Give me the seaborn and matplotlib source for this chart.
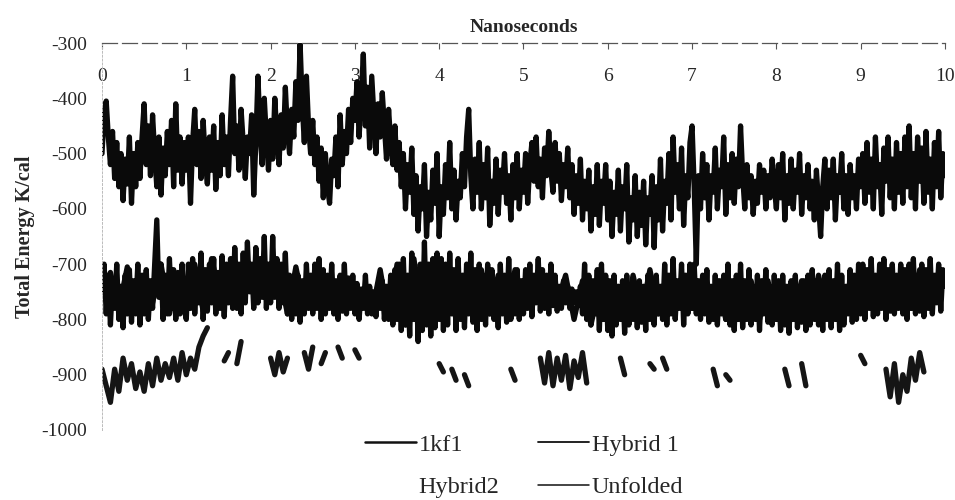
import numpy as np
import pandas as pd
import matplotlib
matplotlib.use("Agg")
import matplotlib.pyplot as plt
from matplotlib.lines import Line2D
import seaborn as sns

na = np.nan

# readings every 0.025 ns for the two dense traces
ns_fine = np.linspace(0, 10, 401)
# 0.05 ns for the broken trace, 0.1 ns for the hidden one
ns_mid = np.linspace(0, 10, 201)
ns_coarse = np.linspace(0, 10, 101)

# values (K/cal), one row per 0.5 ns
kf1 = [
    -500, -430, -405, -470, -520, -460, -545, -480, -560, -500, -585, -510, -555, -470, -590, -500, -560, -480, -545, -470,
    -410, -520, -450, -540, -430, -500, -560, -470, -575, -490, -540, -460, -520, -440, -560, -410, -530, -470, -555, -480,
    -530, -470, -590, -480, -420, -520, -460, -545, -440, -510, -555, -470, -530, -450, -565, -480, -540, -430, -520, -470,
    -540, -440, -360, -500, -450, -530, -420, -480, -545, -470, -500, -430, -575, -480, -360, -460, -520, -400, -470, -530,
    -440, -510, -400, -470, -520, -430, -490, -380, -460, -500, -420, -470, -370, -440, -300, -410, -480, -360, -450, -500,
    -440, -520, -470, -550, -490, -580, -500, -560, -590, -510, -540, -470, -560, -430, -520, -460, -500, -420, -480, -400,
    -440, -370, -470, -400, -320, -450, -380, -490, -360, -430, -500, -410, -470, -390, -450, -510, -420, -480, -520, -450,
    -530, -480, -560, -500, -600, -520, -570, -490, -610, -540, -640, -560, -600, -520, -650, -570, -620, -530, -590, -500,
    -650, -560, -610, -520, -580, -480, -600, -530, -620, -550, -580, -500, -560, -470, -420, -540, -600, -510, -570, -480,
    -600, -520, -580, -490, -630, -550, -590, -510, -610, -530, -570, -500, -590, -540, -620, -520, -580, -500, -600, -530,
    -570, -500, -590, -520, -480, -550, -470, -560, -510, -580, -490, -540, -460, -530, -570, -480, -550, -500, -585, -520,
    -560, -490, -580, -520, -610, -540, -590, -510, -620, -550, -600, -530, -640, -560, -610, -520, -630, -550, -590, -520,
    -620, -550, -650, -570, -610, -530, -640, -560, -600, -520, -660, -580, -620, -540, -650, -570, -630, -550, -665, -580,
    -610, -540, -670, -560, -620, -510, -640, -550, -590, -500, -620, -470, -570, -520, -600, -490, -630, -540, -580, -480,
    -450, -560, -700, -540, -600, -500, -580, -520, -620, -540, -570, -490, -600, -530, -560, -470, -610, -520, -580, -500,
    -590, -510, -560, -450, -540, -600, -520, -580, -540, -610, -550, -590, -520, -570, -530, -600, -540, -580, -510, -560,
    -600, -520, -580, -500, -620, -540, -590, -510, -600, -530, -570, -500, -610, -540, -580, -520, -600, -550, -620, -530,
    -590, -650, -560, -510, -600, -530, -580, -510, -620, -540, -570, -500, -600, -540, -610, -520, -580, -540, -600, -510,
    -560, -500, -590, -480, -570, -510, -600, -470, -560, -520, -610, -490, -550, -470, -580, -510, -600, -480, -570, -500,
    -590, -470, -560, -450, -580, -500, -600, -470, -550, -490, -590, -460, -570, -510, -600, -480, -560, -460, -580, -500,
    -540,
]

hybrid1 = [
    -750, -700, -790, -720, -810, -730, -780, -700, -800, -740, -815, -720, -790, -710, -805, -730, -780, -700, -810, -720,
    -790, -710, -800, -730, -780, -700, -620, -760, -700, -800, -720, -790, -690, -780, -710, -800, -730, -790, -700, -780,
    -800, -700, -780, -690, -790, -720, -770, -680, -800, -710, -785, -700, -770, -690, -790, -715, -780, -685, -795, -700,
    -770, -690, -780, -670, -760, -700, -790, -680, -770, -660, -750, -700, -780, -670, -770, -690, -760, -650, -780, -700,
    -770, -650, -760, -690, -780, -700, -770, -680, -790, -720, -800, -740, -790, -720, -805, -730, -790, -700, -780, -720,
    -790, -700, -780, -690, -800, -710, -790, -720, -780, -700, -790, -730, -800, -720, -785, -700, -790, -725, -780, -720,
    -790, -735, -800, -745, -780, -720, -790, -740, -785, -750, -795, -740, -780, -730, -800, -740, -790, -720, -810, -710,
    -800, -700, -820, -690, -810, -720, -830, -680, -800, -710, -840, -700, -820, -660, -810, -700, -830, -690, -815, -680,
    -800, -690, -820, -700, -810, -680, -790, -710, -820, -690, -800, -720, -815, -700, -790, -680, -805, -710, -820, -700,
    -800, -720, -810, -700, -790, -710, -800, -730, -815, -700, -790, -720, -805, -690, -800, -720, -790, -710, -800, -730,
    -790, -710, -780, -700, -795, -720, -770, -690, -785, -710, -780, -720, -790, -700, -775, -720, -785, -740, -780, -730,
    -770, -740, -780, -745, -770, -750, -775, -740, -790, -700, -800, -720, -810, -730, -790, -710, -820, -700, -800, -720,
    -820, -730, -830, -720, -810, -740, -800, -730, -825, -720, -810, -750, -800, -740, -815, -730, -805, -740, -820, -720,
    -800, -730, -810, -720, -790, -740, -800, -700, -810, -720, -790, -690, -800, -730, -780, -700, -810, -720, -790, -700,
    -780, -700, -790, -730, -800, -720, -790, -710, -805, -740, -800, -720, -810, -730, -790, -720, -800, -700, -810, -730,
    -820, -720, -800, -700, -815, -730, -800, -710, -810, -740, -800, -720, -820, -730, -790, -710, -805, -740, -810, -720,
    -800, -730, -820, -720, -810, -740, -825, -730, -800, -720, -815, -740, -805, -730, -820, -720, -810, -710, -800, -730,
    -810, -740, -820, -720, -800, -710, -815, -730, -800, -700, -820, -720, -810, -740, -790, -710, -805, -720, -800, -700,
    -790, -700, -800, -710, -780, -690, -795, -720, -790, -700, -780, -690, -800, -710, -785, -700, -790, -720, -780, -700,
    -790, -710, -800, -700, -780, -690, -790, -720, -785, -700, -795, -710, -780, -690, -790, -720, -770, -700, -785, -710,
    -740,
]

# only fragments of this trace survive in the scan, one row per ns
hybrid2 = [
    -890, -920, -950, -890, -930, -870, -910, -880, -925, -895, -930, -880, -920, -870, -910, -880, -905, -870, -910, -860,
    -900, -870, -890, -850, -830, -815, na, na, na, -875, -860, na, -880, -840, na, na, na, na, na, na,
    -870, -900, -860, -895, -870, na, na, na, -860, -890, -850, na, -880, -860, na, na, -850, -870, na, na,
    -855, -870, na, na, na, na, na, na, na, na, na, na, na, na, na, na, na, na, na, na,
    -880, -895, na, -890, -910, na, -900, -920, na, na, na, na, na, na, na, na, na, -890, -910, na,
    na, na, na, na, -870, -915, -860, -920, -870, -910, -865, -925, -875, -905, -860, -915, na, na, na, na,
    na, na, na, -870, -900, na, na, na, na, na, -880, -890, na, -870, -890, na, na, na, na, na,
    na, na, na, na, na, -890, -920, na, -900, -910, na, na, na, na, na, na, na, na, na, na,
    na, na, -890, -920, na, na, -880, -920, na, na, na, na, na, na, na, na, na, na, na, na,
    -865, -880, na, na, na, na, -890, -940, -880, -950, -900, -930, -870, -910, -860, -895, na, na, na, na,
    na,
]

# lies inside the Hybrid 1 band, one row per 2 ns
unfolded = [
    -750, -715, -780, -705, -790, -720, -770, -700, -790, -715, -770, -700, -785, -690, -760, -710, -780, -690, -755, -700,
    -760, -715, -790, -705, -780, -720, -770, -725, -785, -740, -770, -745, -790, -710, -800, -700, -810, -690, -800, -700,
    -790, -710, -800, -720, -790, -710, -790, -720, -780, -710, -770, -720, -760, -750, -770, -720, -800, -730, -810, -740,
    -790, -740, -800, -720, -790, -710, -790, -720, -780, -720, -780, -740, -790, -730, -800, -740, -790, -730, -800, -730,
    -800, -740, -790, -730, -800, -720, -790, -730, -780, -720, -780, -710, -780, -710, -770, -720, -780, -710, -770, -720,
    -740,
]

y_ticks = [-300, -400, -500, -600, -700, -800, -900, -1000]
x_ticks = list(range(0, 11))

# long table, each unbroken run of a trace is its own unit
rows = []
for name, xs, ys in [("1kf1", ns_fine, kf1), ("Hybrid 1", ns_fine, hybrid1),
                     ("Hybrid2", ns_mid, hybrid2), ("Unfolded", ns_coarse, unfolded)]:
    ys = np.array(ys, dtype=float)
    seg = np.cumsum(np.isnan(ys))
    for x, y, s in zip(xs, ys, seg):
        if not np.isnan(y):
            rows.append((x, y, name, f"{name}-{s}"))
df = pd.DataFrame(rows, columns=["ns", "energy", "series", "unit"])

sns.set_style("white")
plt.rcParams["font.family"] = ["Liberation Serif", "DejaVu Serif"]
plt.rcParams["axes.unicode_minus"] = False

fig = plt.figure(figsize=(9.55, 5.0), dpi=100)
ax = fig.add_axes([0.1068, 0.14, 0.8827, 0.774])

pal = {"1kf1": "#0a0a0a", "Hybrid 1": "#0a0a0a", "Hybrid2": "#151515", "Unfolded": "#0a0a0a"}
sns.lineplot(data=df, x="ns", y="energy", hue="series", units="unit", estimator=None,
             palette=pal, hue_order=["Unfolded", "Hybrid2", "Hybrid 1", "1kf1"],
             linewidth=3.8, sort=False, legend=False, ax=ax)

ax.set_xlim(0, 10)
ax.set_ylim(-1000, -300)
ax.set_yticks(y_ticks)
ax.set_yticklabels([str(v) for v in y_ticks], fontsize=14)
ax.set_xticks(x_ticks)
ax.set_xticklabels([str(v) for v in x_ticks], fontsize=14)

# x axis sits on top, labels hang just under the axis line
ax.xaxis.tick_top()
ax.xaxis.set_label_position("top")
ax.tick_params(axis="x", direction="in", length=4, width=0.8, color="#555555", pad=-30)
ax.tick_params(axis="y", direction="out", length=3, width=0.6, color="#888888", pad=8)
ax.set_xlabel("Nanoseconds", fontsize=14, fontweight="bold", labelpad=8)
ax.set_ylabel("Total Energy K/cal", fontsize=14.5, fontweight="bold", labelpad=4)

for side in ["right", "bottom"]:
    ax.spines[side].set_visible(False)
ax.spines["top"].set_color("#555555")
ax.spines["top"].set_linewidth(0.9)
ax.spines["top"].set_linestyle((0, (12, 4)))
ax.spines["left"].set_color("#bbbbbb")
ax.spines["left"].set_linewidth(0.7)
ax.spines["left"].set_linestyle((0, (2, 2)))

# legend; the Hybrid2 swatch is too pale to show in the scan
handles = [
    Line2D([], [], color="#111111", lw=1.8),
    Line2D([], [], color="white", lw=1.6),
    Line2D([], [], color="#111111", lw=1.3),
    Line2D([], [], color="#111111", lw=1.1),
]
labels = ["1kf1", "Hybrid2", "Hybrid 1", "Unfolded"]
fig.legend(handles, labels, ncol=2, loc="center", bbox_to_anchor=(0.549, 0.068),
           frameon=False, fontsize=17.5, handlelength=2.1, handletextpad=0.1,
           columnspacing=1.6, labelspacing=0.85)

fig.savefig("out.png", dpi=100)
